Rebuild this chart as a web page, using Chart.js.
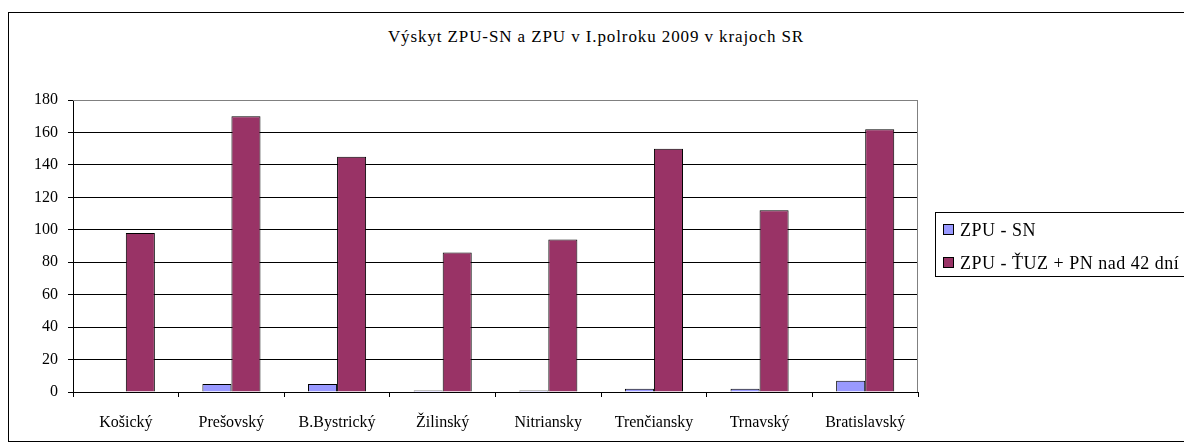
<!DOCTYPE html>
<html>
<head>
<meta charset="utf-8">
<script src="https://cdn.jsdelivr.net/npm/chart.js@4.4.0/dist/chart.umd.min.js"></script>
<style>
  html, body { margin: 0; padding: 0; background: #fff; }
  #wrap { position: relative; width: 1184px; height: 448px; overflow: hidden; }
  #frame { position: absolute; left: 8px; top: 12px; width: 1300px; height: 430px; border: 1px solid #000; box-sizing: border-box; }
  #title { position: absolute; left: 0; width: 1192px; top: 27px; text-align: center; letter-spacing: 0.9px;
    font: 17px "Liberation Serif", "Times New Roman", serif; color: #000; }
  #legend { position: absolute; left: 935px; top: 212px; width: 300px; height: 65px; border: 1px solid #000;
    box-sizing: border-box; font: 18px "Liberation Serif", "Times New Roman", serif; letter-spacing: 0.5px;
    color: #000; padding: 7px 0 0 7px; }
  #legend div { height: 33px; line-height: 20px; white-space: nowrap; }
  #legend span.sw { display: inline-block; width: 9px; height: 9px; border: 1px solid #000; margin-right: 6px; vertical-align: 1px; }
  canvas { position: absolute; left: 0; top: 0; }
</style>
</head>
<body>
<div id="wrap">
  <div id="frame"></div>
  <div id="title">Výskyt ZPU-SN a ZPU v I.polroku 2009 v krajoch SR</div>
  <canvas id="chart" width="1184" height="448"></canvas>
  <div id="legend"></div>
</div>
<script>
const FONT = '"Liberation Serif", "Times New Roman", serif';

// kraje
const regions = ['Košický', 'Prešovský', 'B.Bystrický', 'Žilinský', 'Nitriansky', 'Trenčiansky', 'Trnavský', 'Bratislavský'];
const seriesNames = ['ZPU - SN', 'ZPU - ŤUZ + PN nad 42 dní'];
const zpuSN = [0, 5, 5, 1, 1, 2, 2, 7];
const zpuTuzPN = [98, 170, 145, 86, 94, 150, 112, 162];
const yTicks = [0, 20, 40, 60, 80, 100, 120, 140, 160, 180];
const seriesColors = ['#9999ff', '#993366'];

// sivý rám plochy grafu (hore a vpravo)
const plotBorder = {
  id: 'plotBorder',
  beforeDatasetsDraw(chart) {
    const { ctx, chartArea: a } = chart;
    ctx.save();
    ctx.strokeStyle = '#808080';
    ctx.lineWidth = 1;
    ctx.beginPath();
    ctx.moveTo(a.left, a.top + 0.5);
    ctx.lineTo(a.right - 0.5, a.top + 0.5);
    ctx.lineTo(a.right - 0.5, a.bottom);
    ctx.stroke();
    ctx.restore();
  },
};

new Chart(document.getElementById('chart'), {
  type: 'bar',
  data: {
    labels: regions,
    datasets: [
      { label: seriesNames[0], data: zpuSN, backgroundColor: seriesColors[0], borderColor: '#000', borderWidth: 1 },
      { label: seriesNames[1], data: zpuTuzPN, backgroundColor: seriesColors[1], borderColor: '#000', borderWidth: 1 },
    ],
  },
  options: {
    responsive: false, animation: false,
    layout: { padding: { left: 0, right: 266, top: 100, bottom: 0 } },
    datasets: { bar: { barPercentage: 1, categoryPercentage: 0.55 } },
    plugins: { legend: { display: false }, title: { display: false }, tooltip: { enabled: false } },
    scales: {
      x: {
        grid: { drawOnChartArea: false, drawTicks: true, tickLength: 5, color: '#000', offset: true },
        border: { color: '#000', width: 1 },
        ticks: { color: '#000', font: { family: FONT, size: 16 }, padding: 16, maxRotation: 0, autoSkip: false },
        afterFit: s => { s.height = 56; },
      },
      y: {
        min: 0, max: 180,
        afterBuildTicks: s => { s.ticks = yTicks.map(v => ({ value: v })); },
        grid: { color: c => (c.tick && c.tick.value === 180 ? '#808080' : '#000'), tickColor: '#000', tickLength: 5 },
        border: { color: '#000', width: 1 },
        ticks: { color: '#000', font: { family: FONT, size: 16 }, padding: 10 },
        afterFit: s => { s.width = 73; },
      },
    },
  },
  plugins: [plotBorder],
});

document.getElementById('legend').innerHTML = seriesNames
  .map((n, i) => `<div><span class="sw" style="background:${seriesColors[i]}"></span>${n}</div>`)
  .join('');
</script>
</body>
</html>
